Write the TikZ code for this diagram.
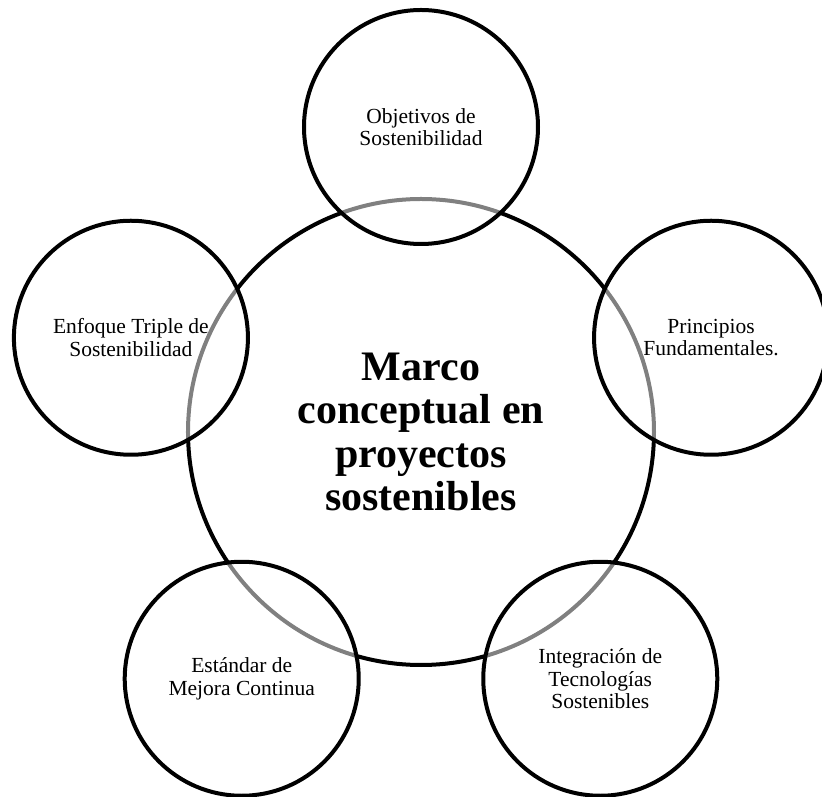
\documentclass[tikz,border=0pt]{standalone}
\usepackage{fontspec}
\setmainfont{Liberation Serif}
\tikzset{>=stealth}

\begin{document}
\begin{tikzpicture}[x=1pt,y=1pt,
        nucleo/.style={draw,circle,line width=4pt,minimum size=466pt,inner sep=0pt,align=center,
            font=\fontsize{42}{43.5}\selectfont\bfseries},
        satelite/.style={draw,circle,line width=4pt,minimum size=234pt,inner sep=0pt,align=center,
            fill=white,fill opacity=.5,text opacity=1,font=\fontsize{21.5}{22.5}\selectfont}]
            \useasboundingbox (-421,-365) rectangle (401,432);
            \clip (-421,-365) rectangle (401,432);
            \node[nucleo] (marco) at (0,0) {Marco\\conceptual en\\proyectos\\sostenibles};
            
            \node[satelite] (objetivos) at (90:305) {Objetivos de\\Sostenibilidad};
            \node[satelite] (principios) at (18:305) {Principios\\Fundamentales.};
            \node[satelite] (integracion) at (-54:305) {Integración de\\Tecnologías\\Sostenibles};
            \node[satelite] (estandar) at (-126:305) {Estándar de\\Mejora Continua};
            \node[satelite] (enfoque) at (162:305) {Enfoque Triple de\\Sostenibilidad};
            
            \end{tikzpicture}
\end{document}
